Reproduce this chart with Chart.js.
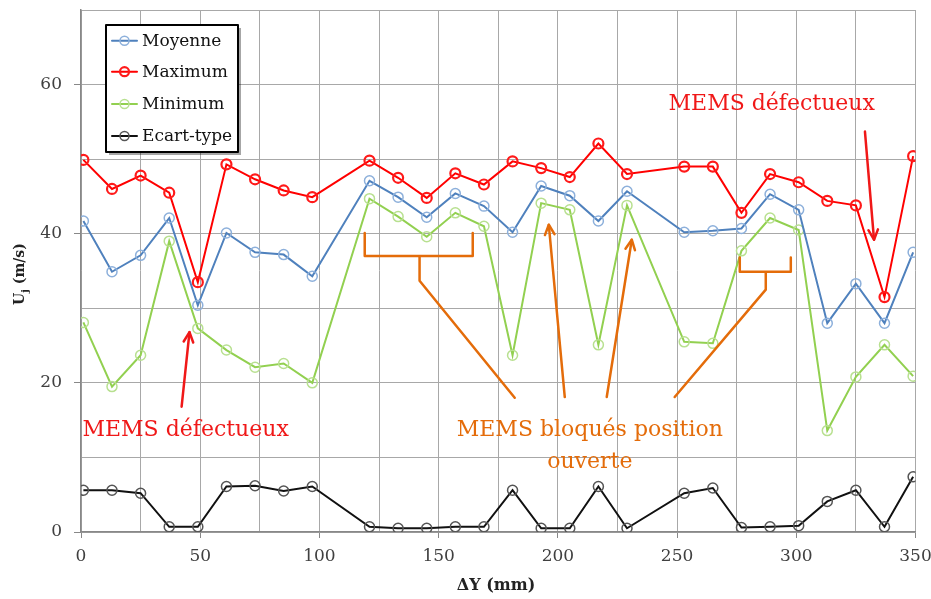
<!DOCTYPE html>
<html>
<head>
<meta charset="utf-8">
<script src="https://cdn.jsdelivr.net/npm/chart.js@4.4.1/dist/chart.umd.min.js"></script>
<style>
  body { margin: 0; background: #fff; }
  #wrap { width: 931px; height: 599px; position: relative; }
</style>
</head>
<body>
<div id="wrap"><canvas id="ujChart"></canvas></div>
<script>
// positions des MEMS (mm)
const positions = [1, 13, 25, 37, 49, 61, 73, 85, 97, 121, 133, 145, 157, 169, 181, 193, 205, 217, 229, 253, 265, 277, 289, 301, 313, 325, 337, 349];

const moyenne = [41.7, 34.9, 37.1, 42.1, 30.4, 40.1, 37.5, 37.2, 34.3, 47.1, 44.9, 42.2, 45.4, 43.7, 40.2, 46.4, 45.1, 41.7, 45.7, 40.2, 40.4, 40.7, 45.3, 43.2, 28.0, 33.3, 28.0, 37.5];
const maximum = [49.9, 46.0, 47.8, 45.5, 33.5, 49.3, 47.3, 45.8, 44.9, 49.8, 47.5, 44.8, 48.1, 46.6, 49.7, 48.8, 47.6, 52.1, 48.0, 49.0, 49.0, 42.8, 48.0, 46.9, 44.4, 43.8, 31.5, 50.4];
const minimum = [28.1, 19.5, 23.7, 39.0, 27.3, 24.4, 22.1, 22.6, 20.0, 44.7, 42.3, 39.6, 42.8, 41.0, 23.7, 44.1, 43.2, 25.1, 43.8, 25.5, 25.3, 37.7, 42.1, 40.5, 13.6, 20.8, 25.1, 20.9];
const ecartType = [5.6, 5.6, 5.2, 0.7, 0.7, 6.1, 6.2, 5.5, 6.1, 0.7, 0.5, 0.5, 0.7, 0.7, 5.6, 0.5, 0.5, 6.1, 0.5, 5.2, 5.9, 0.6, 0.7, 0.85, 4.1, 5.6, 0.7, 7.4];

const seriesNames = ["Moyenne", "Maximum", "Minimum", "Ecart-type"];
const xTicks = [0, 50, 100, 150, 200, 250, 300, 350];
const yTicks = [0, 20, 40, 60];

const FONT = "'DejaVu Serif', 'Liberation Serif', serif";
const ORANGE = "#e46c0a";
const RED = "#f01818";

const styles = [
  { line: "#4f81bd", mark: "#8db0db", mw: 1.5 },
  { line: "#ff0000", mark: "#ff1a1a", mw: 2.2 },
  { line: "#92d050", mark: "#b8e090", mw: 1.5 },
  { line: "#111111", mark: "#555555", mw: 1.5 },
];

const allValues = [moyenne, maximum, minimum, ecartType];
const datasets = allValues.map((vals, k) => ({
  label: seriesNames[k],
  data: positions.map((x, i) => ({ x: x, y: vals[i] })),
  borderColor: styles[k].line,
  borderWidth: 2,
  pointRadius: 5,
  pointBorderWidth: styles[k].mw,
  pointBorderColor: styles[k].mark,
  pointBackgroundColor: "rgba(0,0,0,0)",
  tension: 0,
}));

function arrowHead(ctx, x0, y0, x1, y1, size) {
  const a = Math.atan2(y1 - y0, x1 - x0);
  ctx.beginPath();
  ctx.moveTo(x1 - size * Math.cos(a - 0.45), y1 - size * Math.sin(a - 0.45));
  ctx.lineTo(x1, y1);
  ctx.lineTo(x1 - size * Math.cos(a + 0.45), y1 - size * Math.sin(a + 0.45));
  ctx.stroke();
}

// annotations, en unités des données
const annotations = {
  id: "annotations",
  afterDatasetsDraw(chart) {
    const ctx = chart.ctx;
    const X = (v) => chart.scales.x.getPixelForValue(v);
    const Y = (v) => chart.scales.y.getPixelForValue(v);
    ctx.save();
    ctx.lineCap = "round";
    ctx.lineJoin = "round";

    // accolades et flèches orange
    ctx.strokeStyle = ORANGE;
    ctx.lineWidth = 2.5;
    ctx.beginPath();
    ctx.moveTo(X(119), Y(40.1)); ctx.lineTo(X(119), Y(37)); ctx.lineTo(X(164.3), Y(37)); ctx.lineTo(X(164.3), Y(40.1));
    ctx.moveTo(X(142), Y(37)); ctx.lineTo(X(142), Y(33.7)); ctx.lineTo(X(181.9), Y(18));
    ctx.stroke();
    ctx.beginPath();
    ctx.moveTo(X(276.3), Y(36.8)); ctx.lineTo(X(276.3), Y(34.9)); ctx.lineTo(X(297.7), Y(34.9)); ctx.lineTo(X(297.7), Y(36.8));
    ctx.moveTo(X(287.2), Y(34.9)); ctx.lineTo(X(287.2), Y(32.5)); ctx.lineTo(X(249), Y(18.1));
    ctx.stroke();
    const orangeArrows = [[202.9, 18.1, 196.2, 41.2], [220.5, 18.1, 231.0, 39.2]];
    orangeArrows.forEach(([a, b, c, d]) => {
      ctx.beginPath();
      ctx.moveTo(X(a), Y(b)); ctx.lineTo(X(c), Y(d));
      ctx.stroke();
      arrowHead(ctx, X(a), Y(b), X(c), Y(d), 11);
    });

    // flèches rouges
    ctx.strokeStyle = RED;
    const redArrows = [[42.2, 16.8, 45.5, 26.8], [328.8, 53.7, 332.6, 39.2]];
    redArrows.forEach(([a, b, c, d]) => {
      ctx.beginPath();
      ctx.moveTo(X(a), Y(b)); ctx.lineTo(X(c), Y(d));
      ctx.stroke();
      arrowHead(ctx, X(a), Y(b), X(c), Y(d), 11);
    });

    // textes
    ctx.font = "22px " + FONT;
    ctx.textAlign = "center";
    ctx.textBaseline = "middle";
    ctx.fillStyle = RED;
    ctx.fillText("MEMS défectueux", X(43.9), Y(13.6));
    ctx.fillText("MEMS défectueux", X(289.7), Y(57.3));
    ctx.fillStyle = ORANGE;
    ctx.fillText("MEMS bloqués position", X(213.4), Y(13.7));
    ctx.fillText("ouverte", X(213.4), Y(9.4));

    // légende
    ctx.fillStyle = "rgba(0,0,0,0.35)";
    ctx.fillRect(109, 28, 132, 127);
    ctx.fillStyle = "#fff";
    ctx.fillRect(106, 25, 132, 127);
    ctx.strokeStyle = "#000";
    ctx.lineWidth = 2;
    ctx.strokeRect(106, 25, 132, 127);
    const rows = [40.7, 71.7, 104, 136];
    ctx.font = "17px " + FONT;
    ctx.textAlign = "left";
    rows.forEach((ry, k) => {
      ctx.strokeStyle = styles[k].line;
      ctx.lineWidth = 2;
      ctx.beginPath(); ctx.moveTo(112, ry); ctx.lineTo(137, ry); ctx.stroke();
      ctx.strokeStyle = styles[k].mark;
      ctx.lineWidth = styles[k].mw;
      ctx.beginPath(); ctx.arc(124.5, ry, 4.5, 0, Math.PI * 2); ctx.stroke();
      ctx.fillStyle = "#111";
      ctx.fillText(seriesNames[k], 142, ry + 1);
    });

    // titres des axes
    ctx.fillStyle = "#222";
    ctx.font = "bold 16px " + FONT;
    ctx.textAlign = "center";
    ctx.fillText("ΔY (mm)", 496, 586);

    ctx.translate(20, 274);
    ctx.rotate(-Math.PI / 2);
    ctx.textAlign = "left";
    const big = "bold 14px " + FONT, small = "bold 10px " + FONT;
    ctx.font = big;
    const wU = ctx.measureText("U").width;
    const wR = ctx.measureText(" (m/s)").width;
    ctx.font = small;
    const wj = ctx.measureText("j").width;
    let sx = -(wU + wj + wR) / 2;
    ctx.font = big; ctx.fillText("U", sx, 0); sx += wU;
    ctx.font = small; ctx.fillText("j", sx, 5); sx += wj;
    ctx.font = big; ctx.fillText(" (m/s)", sx, 0);
    ctx.restore();
  },
};

const gridColor = "#a8a8a8";

new Chart(document.getElementById("ujChart").getContext("2d"), {
  type: "line",
  data: { datasets: datasets },
  options: {
    responsive: true,
    maintainAspectRatio: false,
    animation: false,
    layout: { padding: { top: 10, right: 15.5, left: 0, bottom: 0 } },
    plugins: { legend: { display: false }, tooltip: { enabled: false } },
    scales: {
      x: {
        type: "linear",
        min: 0,
        max: 350,
        afterFit: (s) => { s.height = 67; s.paddingLeft = 0; s.paddingRight = 0; },
        ticks: {
          stepSize: 25,
          padding: 8,
          color: "#404040",
          font: { family: FONT, size: 17 },
          callback: (v) => (xTicks.includes(v) ? v : ""),
        },
        grid: {
          color: gridColor,
          tickLength: 6,
          tickColor: (c) => (xTicks.includes(c.tick && c.tick.value) ? "#888" : "rgba(0,0,0,0)"),
        },
        border: { color: "#888", width: 1.5 },
      },
      y: {
        min: 0,
        max: 70,
        afterFit: (s) => { s.width = 81; s.paddingTop = 0; s.paddingBottom = 0; },
        ticks: {
          stepSize: 10,
          padding: 12,
          color: "#404040",
          font: { family: FONT, size: 17 },
          callback: (v) => (yTicks.includes(v) ? v : ""),
        },
        grid: {
          color: gridColor,
          tickLength: 7,
          tickColor: (c) => (yTicks.includes(c.tick && c.tick.value) ? "#888" : "rgba(0,0,0,0)"),
        },
        border: { color: "#888", width: 1.5 },
      },
    },
  },
  plugins: [annotations],
});
</script>
</body>
</html>
